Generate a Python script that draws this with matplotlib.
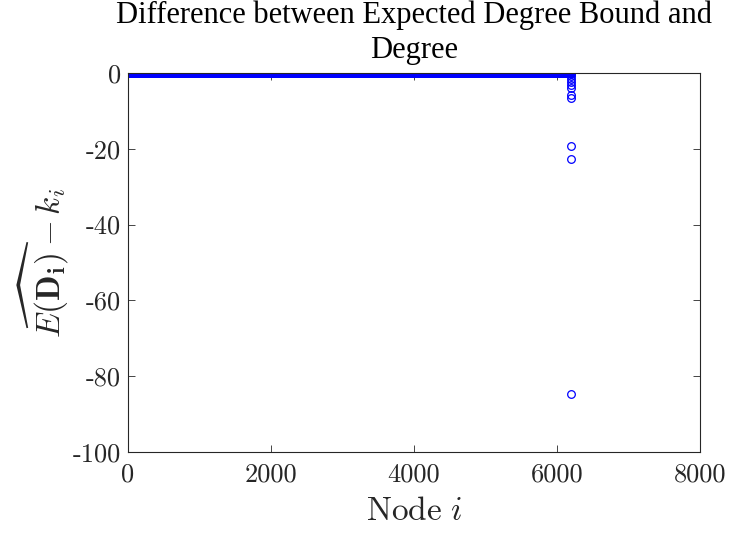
import matplotlib
matplotlib.use("Agg")
import matplotlib.pyplot as plt
import numpy as np

plt.rcParams["mathtext.fontset"] = "cm"

N_NODES = 6200
# most nodes sit on 0; the last few drop below the bound
TAIL_VALUES = [-0.3, -0.8, -1.5, -2.4, -3.2, -4.0, -5.8, -6.5, -19.3, -22.7, -84.7]

XTICKS = [0, 2000, 4000, 6000, 8000]
YTICKS = [-100, -80, -60, -40, -20, 0]
YTICK_LABELS = ["-100", "-80", "-60", "-40", "-20", "0"]

nodes = np.arange(1, N_NODES + 1)
diff = np.zeros(N_NODES)
diff[-len(TAIL_VALUES):] = TAIL_VALUES

fig = plt.figure(figsize=(7.33, 5.35), dpi=100)
ax = fig.add_axes([0.1746, 0.155, 0.7804, 0.7086])

ax.plot(nodes, diff, "o", markersize=5.5, markerfacecolor="none",
        markeredgecolor="blue", markeredgewidth=0.9, linestyle="none")

ax.set_xlim(0, 8000)
ax.set_ylim(-100, 0)
ax.set_xticks(XTICKS)
ax.set_xticklabels([str(t) for t in XTICKS], family="cmr10", fontsize=19)
ax.set_yticks(YTICKS)
ax.set_yticklabels(YTICK_LABELS, family="cmr10", fontsize=19)

axcol = "#262626"
for s in ax.spines.values():
    s.set_color(axcol)
    s.set_linewidth(0.8)
ax.tick_params(direction="in", top=True, right=True, length=5, width=0.6,
               color=axcol, labelcolor=axcol)
ax.tick_params(axis="x", pad=8)
ax.tick_params(axis="y", pad=5)

ax.set_xlabel(r"$\mathrm{Node}\ i$", fontsize=24, color=axcol, labelpad=5)
ax.set_ylabel(r"$\widehat{E(\mathbf{D_i})} - k_i$", fontsize=24, color=axcol,
              labelpad=2)
ax.set_title("Difference between Expected Degree Bound and\nDegree",
             family="Liberation Serif", fontsize=22, color="black",
             linespacing=1.28, pad=11)

fig.savefig("out.png", dpi=100)
